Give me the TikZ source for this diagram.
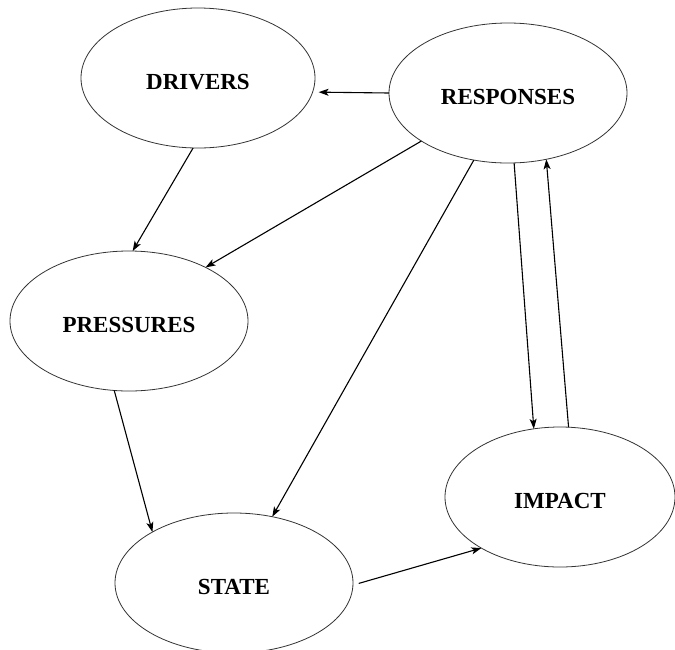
\documentclass[tikz,border=0pt]{standalone}
\usepackage{fontspec}
\setmainfont{Liberation Serif}
\usetikzlibrary{shapes.geometric,arrows.meta}
\begin{document}
\begin{tikzpicture}[x=1pt,y=-1pt,
  blob/.style={ellipse,draw=black!80,line width=0.8pt,inner sep=0pt,outer sep=0pt,
    minimum width=236pt,minimum height=140pt,text height=23pt,text depth=0pt,
    font=\fontsize{23}{23}\selectfont\bfseries},
  link/.style={line width=1.1pt,-{Stealth[length=10pt,width=7pt,inset=2.5pt]}}]
\useasboundingbox (0,0) rectangle (675,649);
\node[blob,minimum width=234pt] (D) at (198,78) {DRIVERS};
\node[blob,minimum width=238pt] (R) at (508,93) {RESPONSES};
\node[blob,minimum width=238pt] (P) at (129,321) {PRESSURES};
\node[blob,minimum width=238pt] (S) at (234,583) {STATE};
\node[blob,minimum width=230pt] (I) at (560,497) {IMPACT};
\draw[link,shorten >=6pt] (R.180) -- (D.-7);
\draw[link] (D.266) -- (P.87);
\draw[link] (R.209) -- (P.35);
\draw[link] (R.243.4) -- (S.60.9);
\draw[link] (R.275.7) -- (I.111.5);
\draw[link] (I.83.5) -- (R.300.3);
\draw[link] (P.258.7) -- (S.148.4);
\draw[link,shorten <=6pt] (S.-1.4) -- (I.213.5);
\end{tikzpicture}
\end{document}
